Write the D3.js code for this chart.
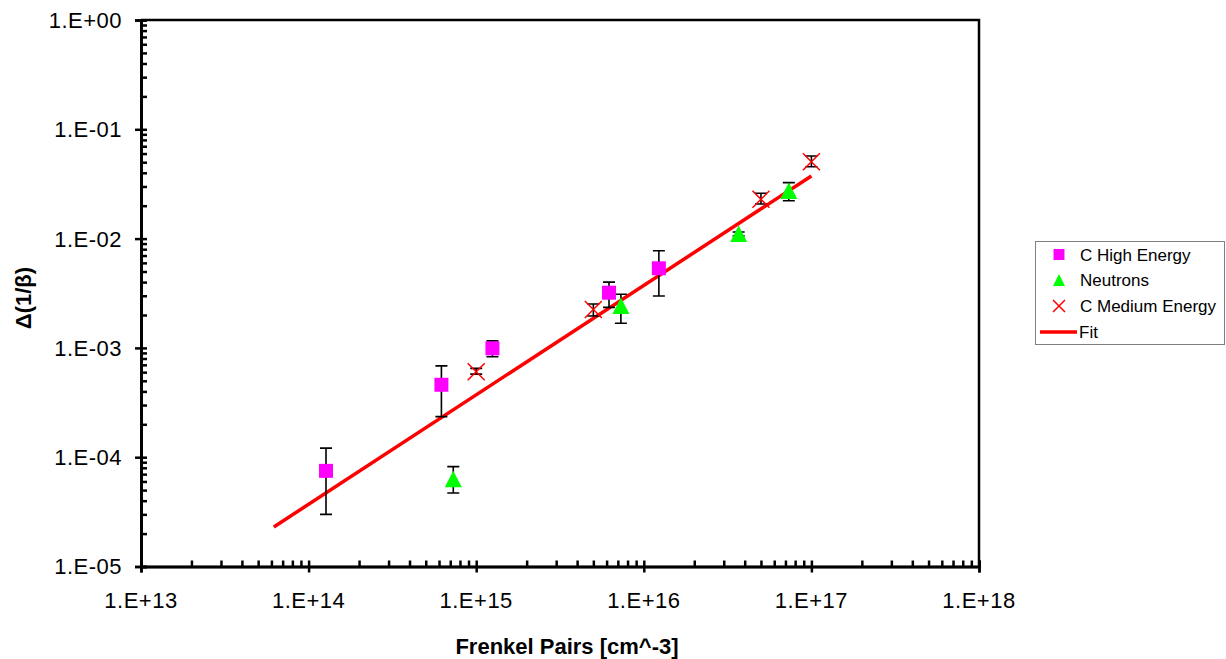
<!DOCTYPE html>
<html>
<head>
<meta charset="utf-8">
<script src="https://cdn.jsdelivr.net/npm/d3@7"></script>
<style>
  body { margin: 0; background: #fff; }
  svg { display: block; font-family: "Liberation Sans", Arial, sans-serif; }
</style>
</head>
<body>
<svg width="1226" height="659"></svg>
<script>
// данные
const seriesNames = ["C High Energy", "Neutrons", "C Medium Energy", "Fit"];

// C High Energy
const highX = [1.27e14, 6.2e14, 1.25e15, 6.2e15, 1.23e16];
const highY = [7.5e-5, 4.6e-4, 9.9e-4, 3.2e-3, 5.35e-3];
const highLo = [3.0e-5, 2.35e-4, 8.3e-4, 2.35e-3, 2.98e-3];
const highHi = [1.21e-4, 6.85e-4, 1.16e-3, 4.0e-3, 7.75e-3];

// Neutrons
const neutX = [7.3e14, 7.3e15, 3.68e16, 7.33e16];
const neutY = [6.3e-5, 2.42e-3, 1.1e-2, 2.72e-2];
const neutLo = [4.7e-5, 1.68e-3, 1.06e-2, 2.22e-2];
const neutHi = [8.2e-5, 3.1e-3, 1.15e-2, 3.25e-2];

// C Medium Energy
const medX = [1.0e15, 5.0e15, 5.0e16, 1.0e17];
const medY = [6.05e-4, 2.25e-3, 2.29e-2, 5.05e-2];
const medLo = [5.75e-4, 1.96e-3, 2.07e-2, 4.55e-2];
const medHi = [6.5e-4, 2.52e-3, 2.6e-2, 5.7e-2];

// Fit (две конечные точки прямой)
const fitX = [6.2e13, 1.0e17];
const fitY = [2.3e-5, 3.74e-2];

// подписи осей
const xTicks = [1e13, 1e14, 1e15, 1e16, 1e17, 1e18];
const xTickLabels = ["1.E+13", "1.E+14", "1.E+15", "1.E+16", "1.E+17", "1.E+18"];
const yTicks = [1e-5, 1e-4, 1e-3, 1e-2, 1e-1, 1];
const yTickLabels = ["1.E-05", "1.E-04", "1.E-03", "1.E-02", "1.E-01", "1.E+00"];

const svg = d3.select("svg");

const area = { left: 141, right: 979, top: 20, bottom: 566.5 };

const scX = d3.scaleLog().domain([1e13, 1e18]).range([area.left, area.right]);
const scY = d3.scaleLog().domain([1e-5, 1]).range([area.bottom, area.top]);

// второстепенные деления 2..9 внутри каждой декады
const minorX = scX.ticks().filter(v => !xTicks.includes(v));
const minorY = scY.ticks().filter(v => !yTicks.includes(v));

// рамка (верх и право)
svg.append("path")
  .attr("d", `M${area.left},${area.top}H${area.right}V${area.bottom}`)
  .attr("fill", "none")
  .attr("stroke", "#000")
  .attr("stroke-width", 2.5);

// ось X
const gx = svg.append("g").attr("transform", `translate(0,${area.bottom})`);
gx.call(d3.axisBottom(scX).tickValues(minorX).tickSize(-6).tickFormat(""));
gx.call(g => g.append("g").call(d3.axisBottom(scX).tickValues(xTicks).tickSize(6).tickFormat("")));
gx.call(g => g.append("g").call(d3.axisBottom(scX).tickValues(xTicks).tickSize(-6).tickFormat("")));
gx.selectAll(".domain").attr("stroke-width", 2.5);
gx.selectAll(".tick line").attr("stroke-width", 2.5);
gx.selectAll(".xlab")
  .data(xTicks)
  .enter()
  .append("text")
  .attr("class", "xlab")
  .attr("x", d => scX(d))
  .attr("y", 41.5)
  .attr("text-anchor", "middle")
  .attr("fill", "#000")
  .style("font-size", "22px")
  .style("letter-spacing", "0.5px")
  .text((d, i) => xTickLabels[i]);

// ось Y
const gy = svg.append("g").attr("transform", `translate(${area.left},0)`);
gy.call(d3.axisLeft(scY).tickValues(minorY).tickSize(-6).tickFormat(""));
gy.call(g => g.append("g").call(d3.axisLeft(scY).tickValues(yTicks).tickSize(6).tickFormat("")));
gy.call(g => g.append("g").call(d3.axisLeft(scY).tickValues(yTicks).tickSize(-6).tickFormat("")));
gy.selectAll(".domain").attr("stroke-width", 2.5);
gy.selectAll(".tick line").attr("stroke-width", 2.5);
gy.selectAll(".ylab")
  .data(yTicks)
  .enter()
  .append("text")
  .attr("class", "ylab")
  .attr("x", -19)
  .attr("y", d => scY(d))
  .attr("dy", "0.36em")
  .attr("text-anchor", "end")
  .attr("fill", "#000")
  .style("font-size", "22px")
  .style("letter-spacing", "0.5px")
  .text((d, i) => yTickLabels[i]);

// подписи осей
svg.append("text")
  .attr("x", 567)
  .attr("y", 654)
  .attr("text-anchor", "middle")
  .style("font-size", "22px")
  .style("font-weight", "bold")
  .text("Frenkel Pairs [cm^-3]");

svg.append("text")
  .attr("transform", "translate(31,298) rotate(-90)")
  .attr("text-anchor", "middle")
  .style("font-size", "22px")
  .style("font-weight", "bold")
  .text("Δ(1/β)");

// линия аппроксимации
svg.append("path")
  .datum(fitX.map((x, i) => [x, fitY[i]]))
  .attr("d", d3.line().x(d => scX(d[0])).y(d => scY(d[1])))
  .attr("fill", "none")
  .attr("stroke", "#ff0000")
  .attr("stroke-width", 3.5);

// планки погрешностей
function drawErrors(xs, lo, hi) {
  const pts = xs.map((x, i) => ({ x: x, lo: lo[i], hi: hi[i] }));
  const g = svg.append("g").attr("stroke", "#000").attr("stroke-width", 1.6);
  g.selectAll("path")
    .data(pts)
    .enter()
    .append("path")
    .attr("fill", "none")
    .attr("d", d => {
      const cx = scX(d.x), y1 = scY(d.hi), y2 = scY(d.lo);
      return `M${cx},${y1}V${y2}M${cx - 6},${y1}H${cx + 6}M${cx - 6},${y2}H${cx + 6}`;
    });
}

drawErrors(highX, highLo, highHi);
drawErrors(neutX, neutLo, neutHi);
drawErrors(medX, medLo, medHi);

// маркеры
const symSquare = d3.symbol().type(d3.symbolSquare).size(196);

svg.append("g")
  .selectAll("path")
  .data(highX.map((x, i) => [x, highY[i]]))
  .enter()
  .append("path")
  .attr("d", symSquare)
  .attr("transform", d => `translate(${scX(d[0])},${scY(d[1])})`)
  .attr("fill", "#ff00ff");

svg.append("g")
  .selectAll("path")
  .data(neutX.map((x, i) => [x, neutY[i]]))
  .enter()
  .append("path")
  .attr("d", "M0,-8.5L8.5,8L-8.5,8Z")
  .attr("transform", d => `translate(${scX(d[0])},${scY(d[1])})`)
  .attr("fill", "#00ff00");

svg.append("g")
  .selectAll("path")
  .data(medX.map((x, i) => [x, medY[i]]))
  .enter()
  .append("path")
  .attr("d", "M-8.5,-8.5L8.5,8.5M-8.5,8.5L8.5,-8.5")
  .attr("transform", d => `translate(${scX(d[0])},${scY(d[1])})`)
  .attr("fill", "none")
  .attr("stroke", "#ff0000")
  .attr("stroke-width", 1.5);

// легенда
const legend = svg.append("g").attr("transform", "translate(1035,241)");
legend.append("rect")
  .attr("x", 0.5).attr("y", 0.5)
  .attr("width", 189).attr("height", 103)
  .attr("fill", "#fff")
  .attr("stroke", "#808080")
  .attr("stroke-width", 1);

const rowY = [13.5, 39, 65, 91];
const legSymbols = [
  g => g.append("path").attr("d", d3.symbol().type(d3.symbolSquare).size(120)).attr("fill", "#ff00ff"),
  g => g.append("path").attr("d", "M0,-6L6,6L-6,6Z").attr("fill", "#00ff00"),
  g => g.append("path").attr("d", "M-6,-6L6,6M-6,6L6,-6").attr("stroke", "#ff0000").attr("stroke-width", 1.5),
  g => g.append("path").attr("d", "M-19,0H18").attr("stroke", "#ff0000").attr("stroke-width", 3.5)
];

seriesNames.forEach((name, i) => {
  const row = legend.append("g").attr("transform", `translate(24,${rowY[i]})`);
  legSymbols[i](row);
  row.append("text")
    .attr("x", i === 3 ? 20 : 21)
    .attr("dy", "0.36em")
    .style("font-size", "17px")
    .text(name);
});
</script>
</body>
</html>
